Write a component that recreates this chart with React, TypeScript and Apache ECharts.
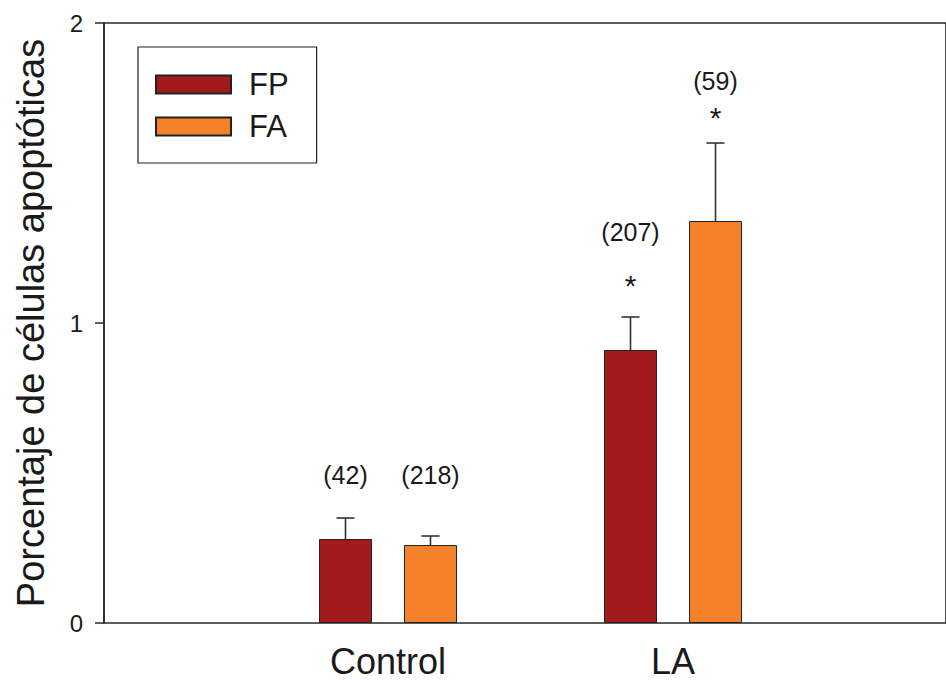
import React, { useEffect, useRef } from "react";
import * as echarts from "echarts";

const categories = ["Control", "LA"];
const seriesNames = ["FP", "FA"];
const fpMeans = [0.28, 0.91];
const faMeans = [0.26, 1.34];
const fpErrors = [0.07, 0.11];
const faErrors = [0.03, 0.26];
const fpCounts = ["(42)", "(207)"];
const faCounts = ["(218)", "(59)"];
const fpCountY = [0.493, 1.302];
const faCountY = [0.493, 1.807];
const fpStarY: (number | null)[] = [null, 1.125];
const faStarY: (number | null)[] = [null, 1.685];
const yMin = 0;
const yMax = 2;
const yInterval = 1;

const FONT = "'Liberation Sans', Arial, Helvetica, sans-serif";
const BAR_W = 53;
const GAP = 32;
const OFFSET = (BAR_W + GAP) / 2;
const CAP = 18;
const COLORS = ["#a31a1a", "#f5822b"];
const INK = "#1a1a1a";

type Ann = { cat: number; y: number; side: number; text: string; size: number };

export default function App() {
  const ref = useRef<HTMLDivElement>(null);
  useEffect(() => {
    if (!ref.current) return;
    const chart = echarts.init(ref.current, undefined, { renderer: "svg" });

    const errData: number[][] = [];
    categories.forEach((_, i) => {
      errData.push([i, fpMeans[i], fpErrors[i], -1]);
      errData.push([i, faMeans[i], faErrors[i], 1]);
    });

    const anns: Ann[] = [];
    categories.forEach((_, i) => {
      anns.push({ cat: i, y: fpCountY[i], side: -1, text: fpCounts[i], size: 25 });
      anns.push({ cat: i, y: faCountY[i], side: 1, text: faCounts[i], size: 25 });
      if (fpStarY[i] != null) anns.push({ cat: i, y: fpStarY[i] as number, side: -1, text: "*", size: 30 });
      if (faStarY[i] != null) anns.push({ cat: i, y: faStarY[i] as number, side: 1, text: "*", size: 30 });
    });

    const option: any = {
      animation: false,
      backgroundColor: "#ffffff",
      textStyle: { fontFamily: FONT },
      grid: [
        { left: 104, top: 23, width: 900, height: 600, show: true, borderColor: "#2a2a2a", borderWidth: 1.6, backgroundColor: "transparent" },
        { left: 245.5, top: 23, width: 570, height: 600 },
      ],
      legend: {
        data: seriesNames,
        orient: "vertical",
        left: 138,
        top: 47,
        borderColor: "#222",
        borderWidth: 1.2,
        padding: [22, 28, 21, 17],
        itemWidth: 75,
        itemHeight: 18,
        itemGap: 11,
        icon: "rect",
        textStyle: { fontSize: 31, color: INK, fontFamily: FONT, lineHeight: 30, padding: [0, 0, 0, 13] },
      },
      xAxis: [
        { gridIndex: 0, type: "value", min: 0, max: 1, axisLine: { show: false }, axisTick: { show: false }, axisLabel: { show: false }, splitLine: { show: false } },
        {
          gridIndex: 1,
          type: "category",
          data: categories,
          axisLine: { show: false },
          axisTick: { show: false },
          axisLabel: { fontSize: 36, color: INK, margin: 20, fontFamily: FONT },
          splitLine: { show: false },
        },
      ],
      yAxis: [
        {
          gridIndex: 0,
          type: "value",
          min: yMin,
          max: yMax,
          interval: yInterval,
          axisLine: { show: true, lineStyle: { color: "#2a2a2a", width: 1.6 } },
          axisTick: { show: true, length: 9, lineStyle: { color: "#2a2a2a", width: 1.5 } },
          axisLabel: { fontSize: 24, color: INK, margin: 21, fontFamily: FONT },
          splitLine: { show: false },
          name: "Porcentaje de células apoptóticas",
          nameLocation: "middle",
          nameRotate: 90,
          nameGap: 54,
          nameTextStyle: { fontSize: 38, color: INK, fontFamily: FONT },
        },
        { gridIndex: 1, type: "value", min: yMin, max: yMax, show: false },
      ],
      series: [
        {
          name: seriesNames[0],
          type: "bar",
          xAxisIndex: 1,
          yAxisIndex: 1,
          data: fpMeans,
          barWidth: BAR_W,
          barGap: (GAP / BAR_W) * 100 + "%",
          itemStyle: { color: COLORS[0], borderColor: "#222", borderWidth: 1 },
        },
        {
          name: seriesNames[1],
          type: "bar",
          xAxisIndex: 1,
          yAxisIndex: 1,
          data: faMeans,
          barWidth: BAR_W,
          barGap: (GAP / BAR_W) * 100 + "%",
          itemStyle: { color: COLORS[1], borderColor: "#222", borderWidth: 1 },
        },
        {
          name: "errors",
          type: "custom",
          xAxisIndex: 1,
          yAxisIndex: 1,
          z: 5,
          data: errData,
          renderItem: (params: any, api: any) => {
            const cat = api.value(0);
            const mean = api.value(1);
            const err = api.value(2);
            const side = api.value(3);
            const base = api.coord([cat, mean]);
            const top = api.coord([cat, mean + err]);
            const x = base[0] + side * OFFSET;
            const st = { stroke: "#333", lineWidth: 1.6 };
            return {
              type: "group",
              children: [
                { type: "line", shape: { x1: x, y1: base[1], x2: x, y2: top[1] }, style: st },
                { type: "line", shape: { x1: x - CAP / 2, y1: top[1], x2: x + CAP / 2, y2: top[1] }, style: st },
              ],
            };
          },
        },
        {
          name: "annotations",
          type: "custom",
          xAxisIndex: 1,
          yAxisIndex: 1,
          z: 6,
          data: anns.map((a) => [a.cat, a.y, a.side]),
          renderItem: (params: any, api: any) => {
            const a = anns[params.dataIndex];
            const p = api.coord([api.value(0), api.value(1)]);
            return {
              type: "text",
              x: p[0] + api.value(2) * OFFSET,
              y: p[1],
              style: { text: a.text, fontSize: a.size, fontFamily: FONT, fill: INK, align: "center", verticalAlign: "middle" },
            };
          },
        },
      ],
    };
    chart.setOption(option);
    return () => chart.dispose();
  }, []);
  return <div ref={ref} style={{ position: "absolute", left: 0, top: 0, width: 946, height: 680 }} />;
}
